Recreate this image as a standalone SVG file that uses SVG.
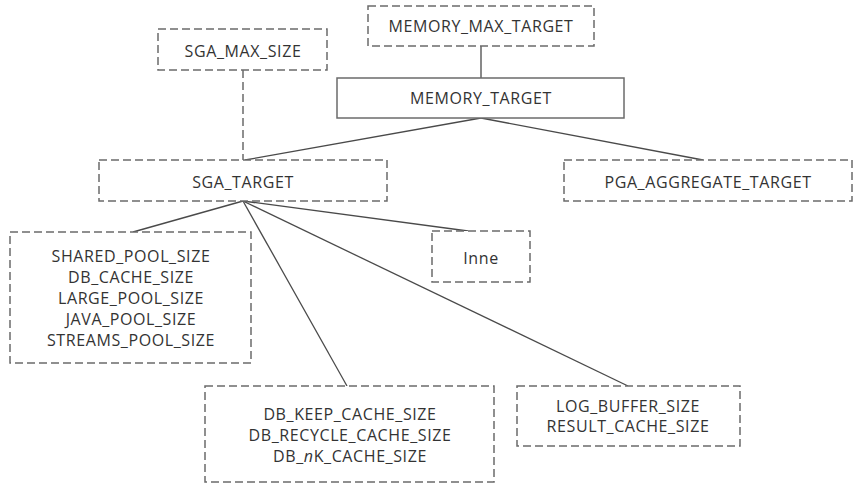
<svg xmlns="http://www.w3.org/2000/svg" width="857" height="484" viewBox="0 0 857 484">
<style>
.box{fill:#fff;stroke:#6b6b6b;stroke-width:1.5;stroke-dasharray:8 4}
.solid{fill:#fff;stroke:#6b6b6b;stroke-width:1.5}
.ln{fill:none;stroke:#4a4a4a;stroke-width:1.3}
.dl{fill:none;stroke:#6b6b6b;stroke-width:1.5;stroke-dasharray:8 4}
text{font-family:"Open Sans","DejaVu Sans",sans-serif;font-size:16px;fill:#333;text-anchor:middle;letter-spacing:0.6px}
</style>
<rect width="857" height="484" fill="#fff"/>
<g id="connectors">
<line class="ln" x1="481" y1="46" x2="481" y2="78"/>
<line class="dl" x1="243" y1="70" x2="243" y2="160"/>
<line class="ln" x1="481" y1="118" x2="245" y2="160"/>
<line class="ln" x1="481" y1="118" x2="703" y2="160"/>
<line class="ln" x1="243" y1="201" x2="133" y2="232"/>
<line class="ln" x1="243" y1="201" x2="347" y2="386"/>
<line class="ln" x1="243" y1="201" x2="468" y2="231"/>
<line class="ln" x1="243" y1="201" x2="628" y2="386"/>
</g>
<g id="memory_max_target">
<rect class="box" x="368" y="6" width="226" height="40"/>
<text x="481" y="32">MEMORY_MAX_TARGET</text>
</g>
<g id="sga_max_size">
<rect class="box" x="158" y="29" width="169" height="41"/>
<text x="243" y="57">SGA_MAX_SIZE</text>
</g>
<g id="memory_target">
<rect class="solid" x="337" y="78" width="287" height="40"/>
<text x="481" y="104">MEMORY_TARGET</text>
</g>
<g id="sga_target">
<rect class="box" x="99" y="160" width="288" height="41"/>
<text x="243" y="188">SGA_TARGET</text>
</g>
<g id="pga_aggregate_target">
<rect class="box" x="564" y="160" width="288" height="41"/>
<text x="708" y="188">PGA_AGGREGATE_TARGET</text>
</g>
<g id="pools">
<rect class="box" x="10" y="232" width="241" height="131"/>
<text x="131" y="262">SHARED_POOL_SIZE</text>
<text x="131" y="283">DB_CACHE_SIZE</text>
<text x="131" y="304">LARGE_POOL_SIZE</text>
<text x="131" y="325">JAVA_POOL_SIZE</text>
<text x="131" y="346">STREAMS_POOL_SIZE</text>
</g>
<g id="inne">
<rect class="box" x="432" y="231" width="98" height="51"/>
<text x="481" y="264">Inne</text>
</g>
<g id="db_caches">
<rect class="box" x="205" y="386" width="289" height="96"/>
<text x="350" y="420">DB_KEEP_CACHE_SIZE</text>
<text x="350" y="441">DB_RECYCLE_CACHE_SIZE</text>
<text x="350" y="462">DB_<tspan font-style="italic">n</tspan>K_CACHE_SIZE</text>
</g>
<g id="log_result">
<rect class="box" x="517" y="386" width="223" height="60"/>
<text x="628" y="412">LOG_BUFFER_SIZE</text>
<text x="628" y="432">RESULT_CACHE_SIZE</text>
</g>
</svg>
